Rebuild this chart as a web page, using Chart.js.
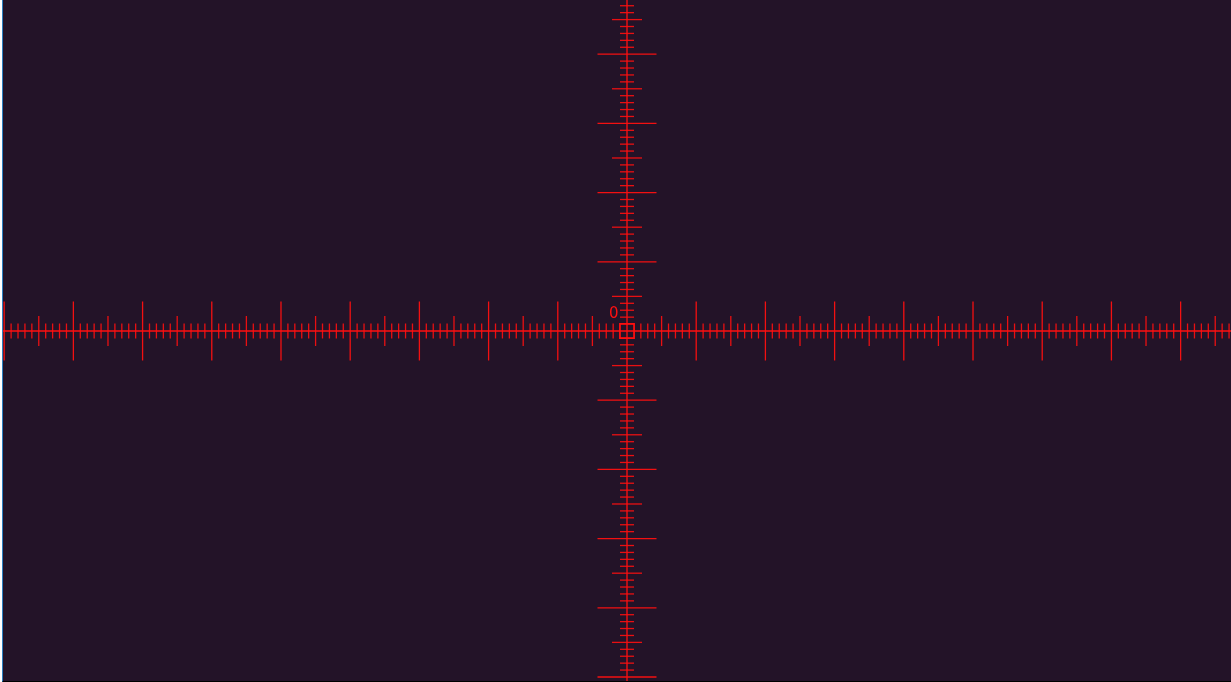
<!DOCTYPE html>
<html>
<head>
<meta charset="utf-8">
<script src="https://cdn.jsdelivr.net/npm/chart.js@4"></script>
<style>
  html, body { margin: 0; padding: 0; background: #ffffff; }
  .frame {
    position: absolute; left: 2px; top: 0;
    width: 1228px; height: 681px;
    border-left: 1px solid #2a7fc0;
    border-bottom: 1px solid #000000;
    background: #231328;
  }
</style>
</head>
<body>
<div class="frame"><canvas id="reticle"></canvas></div>
<script>
// Axis bounds (units)
const xBounds = [-9.017, 8.728];
const yBounds = [-5.058, 4.783];

// Whole-unit tick positions along each axis (0 has no long tick)
const xUnits = [-9, -8, -7, -6, -5, -4, -3, -2, -1, 1, 2, 3, 4, 5, 6, 7, 8];
const yUnits = [-5, -4, -3, -2, -1, 1, 2, 3, 4];
// Every unit is split in tenths, with a medium tick at the half
const unitStarts = { x: [-9, -8, -7, -6, -5, -4, -3, -2, -1, 0, 1, 2, 3, 4, 5, 6, 7, 8],
                     y: [-6, -5, -4, -3, -2, -1, 0, 1, 2, 3, 4] };
const halfOffsets = [0.5];
const tenthOffsets = [0.1, 0.2, 0.3, 0.4, 0.6, 0.7, 0.8, 0.9];

const centerLabel = ['0'];

const RED = '#ff1010';

function along(starts, offsets) {
    const out = [];
    starts.forEach(s => offsets.forEach(o => out.push(Math.round((s + o) * 10) / 10)));
    return out;
}

function xTicks(vals) { return vals.map(v => ({ x: v, y: 0 })); }
function yTicks(vals) { return vals.map(v => ({ x: 0, y: v })); }

function tickSet(data, radius, rotation, alpha) {
    return {
        type: 'scatter',
        data: data,
        pointStyle: 'line',
        pointRadius: radius,
        pointRotation: rotation,
        pointBorderColor: `rgba(255,16,16,${alpha})`,
        pointBorderWidth: 1.3,
        pointHoverRadius: radius,
        clip: false
    };
}

// draws the "0" next to the centre
const labelPlugin = {
    id: 'centerLabel',
    afterDatasetsDraw(chart) {
        const { ctx, scales } = chart;
        ctx.save();
        ctx.fillStyle = RED;
        ctx.font = '15px "DejaVu Sans", sans-serif';
        ctx.textAlign = 'center';
        ctx.textBaseline = 'middle';
        ctx.fillText(centerLabel[0], scales.x.getPixelForValue(-0.19), scales.y.getPixelForValue(0.24));
        ctx.restore();
    }
};

new Chart(document.getElementById('reticle').getContext('2d'), {
    type: 'scatter',
    data: {
        datasets: [
            // main cross lines
            {
                type: 'line',
                data: [{ x: xBounds[0], y: 0 }, { x: xBounds[1], y: 0 }],
                borderColor: RED, borderWidth: 1.3, pointRadius: 0, fill: false
            },
            {
                type: 'line',
                data: [{ x: 0, y: yBounds[0] }, { x: 0, y: yBounds[1] }],
                borderColor: RED, borderWidth: 1.3, pointRadius: 0, fill: false
            },
            // horizontal axis ticks (vertical strokes)
            tickSet(xTicks(xUnits), 29.5, 90, 0.95),
            tickSet(xTicks(along(unitStarts.x, halfOffsets)), 15, 90, 0.9),
            tickSet(xTicks(along(unitStarts.x, tenthOffsets)), 7.5, 90, 0.9),
            // vertical axis ticks (horizontal strokes)
            tickSet(yTicks(yUnits), 29.5, 0, 0.95),
            tickSet(yTicks(along(unitStarts.y, halfOffsets)), 15, 0, 0.9),
            tickSet(yTicks(along(unitStarts.y, tenthOffsets)), 7, 0, 0.9),
            // centre square
            {
                type: 'scatter',
                data: [{ x: 0, y: 0 }],
                pointStyle: 'rect',
                pointRadius: 10.2,
                pointBackgroundColor: 'rgba(0,0,0,0)',
                pointBorderColor: RED,
                pointBorderWidth: 1.4
            }
        ]
    },
    options: {
        responsive: true,
        maintainAspectRatio: false,
        animation: false,
        events: [],
        layout: { padding: 0, autoPadding: false },
        plugins: { legend: { display: false }, tooltip: { enabled: false } },
        scales: {
            x: { type: 'linear', min: xBounds[0], max: xBounds[1], display: false },
            y: { type: 'linear', min: yBounds[0], max: yBounds[1], display: false }
        }
    },
    plugins: [labelPlugin]
});
</script>
</body>
</html>
